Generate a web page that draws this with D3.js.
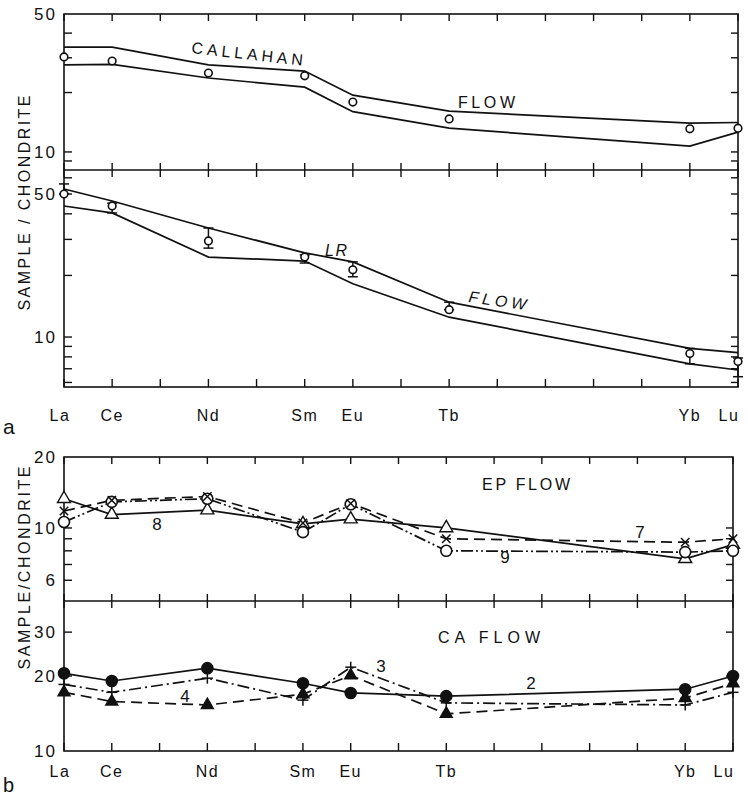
<!DOCTYPE html>
<html>
<head>
<meta charset="utf-8">
<script src="https://cdn.jsdelivr.net/npm/d3@7"></script>
<style>
  body { margin: 0; background: #fff; }
  text { font-family: "Liberation Sans", Arial, sans-serif; fill: #111; }
</style>
</head>
<body>
<svg id="chart" width="748" height="796"></svg>
<script>
// rare earth elements along the x axis, and those that carry data
const ree = ['La', 'Ce', 'Pr', 'Nd', 'Pm', 'Sm', 'Eu', 'Gd', 'Tb', 'Dy', 'Ho', 'Er', 'Tm', 'Yb', 'Lu'];
const plotted = ['La', 'Ce', 'Nd', 'Sm', 'Eu', 'Tb', 'Yb', 'Lu'];

// (a) top: Callahan flow, sample and envelope
const callahanObs = [30.3, 28.9, 25.1, 24.3, 17.9, 14.7, 13.1, 13.2];
const callahanHigh = [34.0, 34.0, 27.6, 25.7, 19.4, 16.1, 14.0, 14.1];
const callahanLow = [27.6, 27.8, 23.7, 21.3, 16.0, 13.2, 10.7, 12.6];

// (a) bottom: LR flow, sample with error bars and envelope
const lrObs = [50.0, 43.7, 29.5, 24.6, 21.3, 13.6, 8.3, 7.6];
const lrErrTop = [56.0, 45.1, 34.1, 25.2, 23.3, 14.8, 8.8, 7.9];
const lrErrBottom = [50.0, 40.4, 27.2, 23.0, 19.7, 13.6, 7.4, 6.4];
const lrHigh = [52.9, 46.2, 34.1, 25.8, 23.3, 14.8, 8.8, 8.4];
const lrLow = [43.7, 40.4, 24.6, 23.5, 18.2, 12.5, 7.4, 6.9];

// (b) top: EP flow samples 7, 8, 9
const ep7 = [11.8, 13.1, 13.6, 10.5, 12.7, 9.0, 8.7, 9.0];
const ep8 = [13.3, 11.4, 11.9, 10.4, 10.9, 10.0, 7.4, 8.5];
const ep9 = [10.6, 12.9, 13.3, 9.6, 12.6, 8.0, 7.9, 8.0];

// (b) bottom: CA flow samples 2, 3, 4
const ca2 = [20.5, 19.1, 21.5, 18.7, 17.1, 16.6, 17.7, 20.0];
const ca3 = [18.5, 17.2, 19.6, 16.0, 21.7, 15.6, 15.3, 17.2];
const ca4 = [17.2, 15.8, 15.3, 16.9, 20.1, 14.1, 16.3, 18.7];

// y ticks and labelled values per panel
const aTopTicks = [9, 10, 20, 30, 40];
const aTopLabels = [10, 50];
const aBotTicks = [6, 7, 8, 9, 10, 20, 30, 40, 50, 60];
const aBotLabels = [10, 50];
const bTopTicks = [6, 7, 8, 9, 10];
const bTopLabels = [6, 10, 20];
const bBotTicks = [20, 30];
const bBotLabels = [10, 20, 30];

let svg = d3.select('#chart');
let ink = '#111';

let xa = d3.scalePoint().domain(ree).range([64, 738]);
let xb = d3.scalePoint().domain(ree).range([64, 733]);
let yaTop = d3.scaleLog().domain([8.1, 50]).range([170, 14]);
let yaBot = d3.scaleLog().domain([5.7, 65.5]).range([387, 170]);
let ybTop = d3.scaleLog().domain([4.9, 20]).range([601, 457]);
let ybBot = d3.scaleLog().domain([10, 40]).range([751, 601]);

function seg(x1, y1, x2, y2, w) {
  svg.append('line')
    .attr('x1', x1).attr('y1', y1).attr('x2', x2).attr('y2', y2)
    .attr('stroke', ink).attr('stroke-width', w || 1.4);
}

function label(str, x, y, opts) {
  opts = opts || {};
  let t = svg.append('text')
    .attr('x', x).attr('y', y)
    .attr('font-size', opts.size || 15)
    .attr('text-anchor', opts.anchor || 'start')
    .text(str);
  if (opts.len) t.attr('textLength', opts.len).attr('lengthAdjust', 'spacing');
  if (opts.italic) t.attr('font-style', 'italic');
  if (opts.rotate) t.attr('transform', `rotate(${opts.rotate},${x},${y})`);
  return t;
}

// box, divider and the element ticks
function drawFrame(x, top, mid, bottom) {
  let [x0, x1] = x.range();
  svg.append('rect')
    .attr('x', x0).attr('y', top)
    .attr('width', x1 - x0).attr('height', bottom - top)
    .attr('fill', 'none').attr('stroke', ink).attr('stroke-width', 1.6);
  seg(x0, mid, x1, mid, 1.6);
  ree.forEach((el) => {
    let px = x(el);
    seg(px, top, px, top + 7);
    seg(px, mid - 7, px, mid + 7);
    seg(px, bottom - 8, px, bottom);
  });
}

function drawYAxis(x, y, ticks, labels) {
  let [x0, x1] = x.range();
  ticks.forEach((v) => {
    seg(x0, y(v), x0 + 8, y(v));
    seg(x1 - 7, y(v), x1, y(v));
  });
  labels.forEach((v) => {
    label(v, 57, y(v) + 6, { anchor: 'end', size: 17 })
      .attr('letter-spacing', 2);
  });
}

function drawXLabels(x, baseline) {
  let shift = { La: -4, Lu: -9 };
  plotted.forEach((el) => {
    label(el, x(el) + (shift[el] || 0), baseline, { anchor: 'middle', size: 16 })
      .attr('letter-spacing', 1.5);
  });
}

function drawLine(x, y, vals, dash) {
  let line = d3.line()
    .x((d) => x(d[0]))
    .y((d) => y(d[1]));
  svg.append('path')
    .datum(plotted.map((el, i) => [el, vals[i]]))
    .attr('d', line)
    .attr('fill', 'none')
    .attr('stroke', ink)
    .attr('stroke-width', 1.7)
    .attr('stroke-dasharray', dash || null);
}

// size = triangle side for triangles, radius for circles, half-arm for x / +
function drawMarkers(x, y, vals, type, size) {
  plotted.forEach((el, i) => {
    let px = x(el), py = y(vals[i]);
    if (type === 'circle' || type === 'dot') {
      svg.append('circle')
        .attr('cx', px).attr('cy', py).attr('r', size)
        .attr('fill', type === 'dot' ? ink : '#fff')
        .attr('stroke', ink).attr('stroke-width', 1.6);
    } else if (type === 'tri' || type === 'triFill') {
      let sym = d3.symbol().type(d3.symbolTriangle).size(size * size * 0.433);
      svg.append('path')
        .attr('d', sym())
        .attr('transform', `translate(${px},${py})`)
        .attr('fill', type === 'triFill' ? ink : '#fff')
        .attr('stroke', ink).attr('stroke-width', 1.4);
    } else if (type === 'x') {
      seg(px - size, py - size, px + size, py + size, 1.5);
      seg(px - size, py + size, px + size, py - size, 1.5);
    } else if (type === 'plus') {
      seg(px - size, py, px + size, py, 1.5);
      seg(px, py - size, px, py + size, 1.5);
    }
  });
}

/************** (a) ***************/
drawFrame(xa, 14, 170, 387);
drawYAxis(xa, yaTop, aTopTicks, aTopLabels);
drawYAxis(xa, yaBot, aBotTicks, aBotLabels);

drawLine(xa, yaTop, callahanHigh);
drawLine(xa, yaTop, callahanLow);
drawMarkers(xa, yaTop, callahanObs, 'circle', 3.8);

drawLine(xa, yaBot, lrHigh);
drawLine(xa, yaBot, lrLow);
// error bars under the circles
plotted.forEach((el, i) => {
  let px = xa(el);
  seg(px, yaBot(lrErrTop[i]), px, yaBot(lrErrBottom[i]), 1.5);
  seg(px - 5, yaBot(lrErrTop[i]), px + 5, yaBot(lrErrTop[i]), 1.5);
  seg(px - 5, yaBot(lrErrBottom[i]), px + 5, yaBot(lrErrBottom[i]), 1.5);
});
drawMarkers(xa, yaBot, lrObs, 'circle', 3.8);

label('CALLAHAN', 191, 53, { size: 16, len: 112, rotate: 6.5 });
label('FLOW', 458, 108, { size: 16, len: 57 });
label('LR', 325, 256, { size: 16, italic: true, len: 22 });
label('FLOW', 468, 302, { size: 16, italic: true, len: 58, rotate: 8 });

drawXLabels(xa, 421);
label('a', 3, 434, { size: 21 });
label('SAMPLE / CHONDRITE', 30, 203, { size: 16, anchor: 'middle', len: 215, rotate: -90 });

/************** (b) ***************/
drawFrame(xb, 457, 601, 751);
drawYAxis(xb, ybTop, bTopTicks, bTopLabels);
drawYAxis(xb, ybBot, bBotTicks, bBotLabels);

// EP flow: lines first, then open marks, crosses on top
drawLine(xb, ybTop, ep8);
drawLine(xb, ybTop, ep9, '12,3,2,3,2,3');
drawLine(xb, ybTop, ep7, '11,6');
drawMarkers(xb, ybTop, ep8, 'tri', 13);
drawMarkers(xb, ybTop, ep9, 'circle', 5.5);
drawMarkers(xb, ybTop, ep7, 'x', 4.2);

// CA flow
drawLine(xb, ybBot, ca2);
drawLine(xb, ybBot, ca3, '12,4,2,4');
drawLine(xb, ybBot, ca4, '11,6');
drawMarkers(xb, ybBot, ca2, 'dot', 5.5);
drawMarkers(xb, ybBot, ca4, 'triFill', 12);
drawMarkers(xb, ybBot, ca3, 'plus', 5.5);

label('EP FLOW', 482, 490, { size: 16, len: 88 });
label('CA FLOW', 438, 643, { size: 16, len: 102 });
label('8', 157, 530, { anchor: 'middle', size: 17 });
label('9', 505, 563, { anchor: 'middle', size: 17 });
label('7', 640, 538, { anchor: 'middle', size: 17 });
label('4', 185, 702, { anchor: 'middle', size: 17 });
label('3', 381, 672, { anchor: 'middle', size: 17 });
label('2', 531, 689, { anchor: 'middle', size: 17 });

drawXLabels(xb, 777);
label('b', 3, 792, { size: 20 });
label('SAMPLE/CHONDRITE', 30, 568, { size: 16, anchor: 'middle', len: 203, rotate: -90 });
</script>
</body>
</html>
